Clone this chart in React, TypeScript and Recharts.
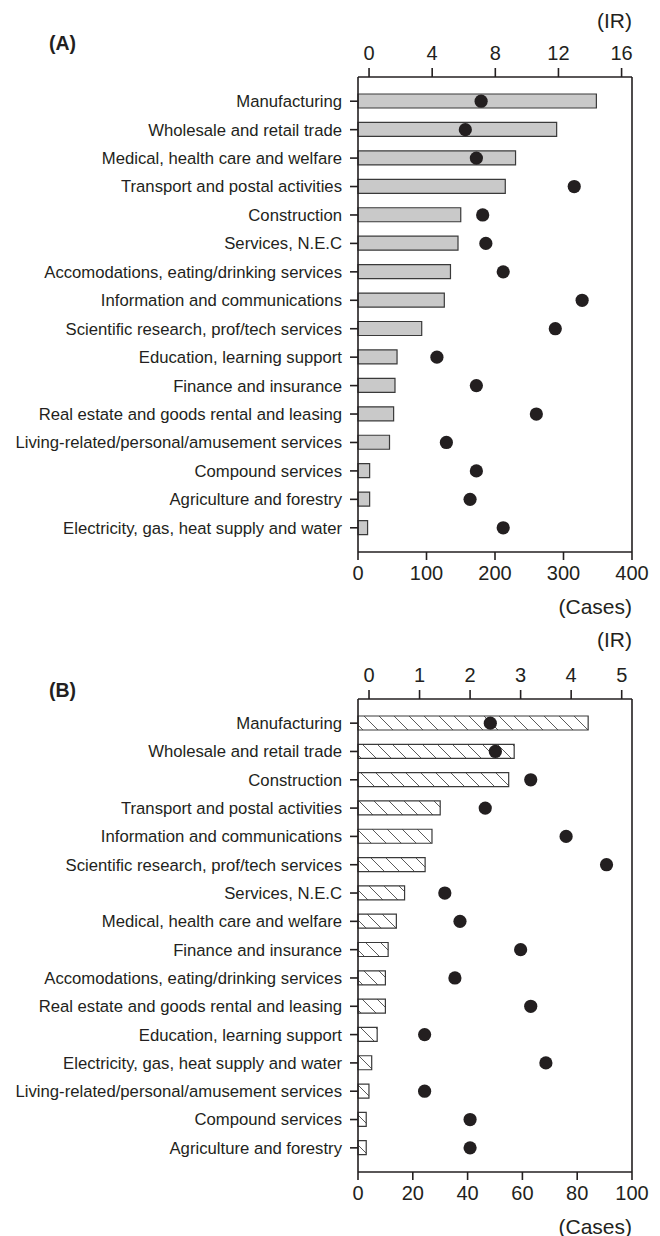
import { Bar, ComposedChart, ReferenceLine, Scatter, XAxis, YAxis } from "recharts"

const categoriesA = [
  "Manufacturing",
  "Wholesale and retail trade",
  "Medical, health care and welfare",
  "Transport and postal activities",
  "Construction",
  "Services, N.E.C",
  "Accomodations, eating/drinking services",
  "Information and communications",
  "Scientific research, prof/tech services",
  "Education, learning support",
  "Finance and insurance",
  "Real estate and goods rental and leasing",
  "Living-related/personal/amusement services",
  "Compound services",
  "Agriculture and forestry",
  "Electricity, gas, heat supply and water",
]
const casesA = [348, 290, 230, 215, 150, 146, 135, 126, 93, 57, 54, 52, 46, 17, 17, 14]
const irA = [7.1, 6.1, 6.8, 13.0, 7.2, 7.4, 8.5, 13.5, 11.8, 4.3, 6.8, 10.6, 4.9, 6.8, 6.4, 8.5]

const categoriesB = [
  "Manufacturing",
  "Wholesale and retail trade",
  "Construction",
  "Transport and postal activities",
  "Information and communications",
  "Scientific research, prof/tech services",
  "Services, N.E.C",
  "Medical, health care and welfare",
  "Finance and insurance",
  "Accomodations, eating/drinking services",
  "Real estate and goods rental and leasing",
  "Education, learning support",
  "Electricity, gas, heat supply and water",
  "Living-related/personal/amusement services",
  "Compound services",
  "Agriculture and forestry",
]
const casesB = [84, 57, 55, 30, 27, 24.5, 17, 14, 11, 10, 10, 7, 5, 4, 3, 3]
const irB = [2.4, 2.5, 3.2, 2.3, 3.9, 4.7, 1.5, 1.8, 3.0, 1.7, 3.2, 1.1, 3.5, 1.1, 2.0, 2.0]

const casesTicksA = [0, 100, 200, 300, 400]
const irTicksA = [0, 4, 8, 12, 16]
const casesTicksB = [0, 20, 40, 60, 80, 100]
const irTicksB = [0, 1, 2, 3, 4, 5]

const INK = "#231f20"
const FONT = "'Liberation Sans', Arial, sans-serif"

type PanelProps = {
  top: number
  height: number
  categories: string[]
  cases: number[]
  ir: number[]
  casesTicks: number[]
  irTicks: number[]
  irDomain: [number, number]
  barFill: string
  hatch?: boolean
}

function Panel({ top, height, categories, cases, ir, casesTicks, irTicks, irDomain, barFill, hatch }: PanelProps) {
  const data = categories.map((name, i) => ({ name, cases: cases[i], ir: ir[i] }))
  const casesMax = casesTicks[casesTicks.length - 1]
  const tick = { fill: INK, fontSize: 20, fontFamily: FONT }

  return (
    <div style={{ position: "absolute", left: 0, top }}>
      <ComposedChart
        width={660}
        height={height}
        data={data}
        layout="vertical"
        margin={{ top: 47, right: 28, bottom: 30, left: 0 }}
      >
        {hatch && (
          <defs>
            <pattern id="hatchB" patternUnits="userSpaceOnUse" width={15} height={15}>
              <rect width={15} height={15} fill="#fff" />
              <path d="M0,0 L15,15 M-2,13 L2,17 M13,-2 L17,2" stroke="#5a5a5a" strokeWidth={1} />
            </pattern>
          </defs>
        )}
        <XAxis
          xAxisId="cases"
          type="number"
          orientation="bottom"
          domain={[0, casesMax]}
          ticks={casesTicks}
          height={30}
          tickSize={8}
          tickMargin={6}
          stroke={INK}
          strokeWidth={1.6}
          tick={tick}
        />
        <XAxis
          xAxisId="ir"
          type="number"
          orientation="top"
          domain={irDomain}
          ticks={irTicks}
          allowDataOverflow
          height={30}
          tickSize={9}
          tickMargin={8}
          stroke={INK}
          strokeWidth={1.6}
          tick={tick}
        />
        <YAxis
          type="category"
          dataKey="name"
          width={358}
          padding={{ top: 10, bottom: 10 }}
          tickSize={8}
          tickMargin={8}
          interval={0}
          stroke={INK}
          strokeWidth={1.6}
          tick={{ fill: INK, fontSize: 16.7, fontFamily: FONT }}
        />
        <ReferenceLine xAxisId="cases" x={casesMax} stroke={INK} strokeWidth={1.6} />
        <Bar
          xAxisId="cases"
          dataKey="cases"
          barSize={14}
          fill={barFill}
          stroke="#3a3a3a"
          strokeWidth={1.2}
          isAnimationActive={false}
        />
        <Scatter
          xAxisId="ir"
          dataKey="ir"
          fill={INK}
          isAnimationActive={false}
          shape={(p: any) => <circle cx={p.cx} cy={p.cy} r={6.6} fill={INK} />}
        />
      </ComposedChart>
    </div>
  )
}

function Note({ text, top, left, right, size, bold }: { text: string; top: number; left?: number; right?: number; size: number; bold?: boolean }) {
  return (
    <div
      style={{
        position: "absolute",
        top,
        left,
        right,
        fontSize: size,
        lineHeight: 1,
        fontFamily: FONT,
        fontWeight: bold ? "bold" : "normal",
        color: INK,
        whiteSpace: "nowrap",
      }}
    >
      {text}
    </div>
  )
}

export default function App() {
  return (
    <div style={{ position: "absolute", left: 0, top: 0, width: 660, height: 1236, background: "#fff" }}>
      <Panel
        top={0}
        height={612}
        categories={categoriesA}
        cases={casesA}
        ir={irA}
        casesTicks={casesTicksA}
        irTicks={irTicksA}
        irDomain={[-0.7, 16.66]}
        barFill="#c9c9c9"
      />
      <Panel
        top={622}
        height={610}
        categories={categoriesB}
        cases={casesB}
        ir={irB}
        casesTicks={casesTicksB}
        irTicks={irTicksB}
        irDomain={[-0.218, 5.204]}
        barFill="url(#hatchB)"
        hatch
      />
      <Note text="(A)" top={33.5} left={49} size={19.5} bold />
      <Note text="(IR)" top={9.5} right={28} size={21} />
      <Note text="(Cases)" top={596} right={28} size={21} />
      <Note text="(B)" top={681} left={49} size={19.5} bold />
      <Note text="(IR)" top={629} right={28} size={21} />
      <Note text="(Cases)" top={1215.5} right={28} size={21} />
    </div>
  )
}
